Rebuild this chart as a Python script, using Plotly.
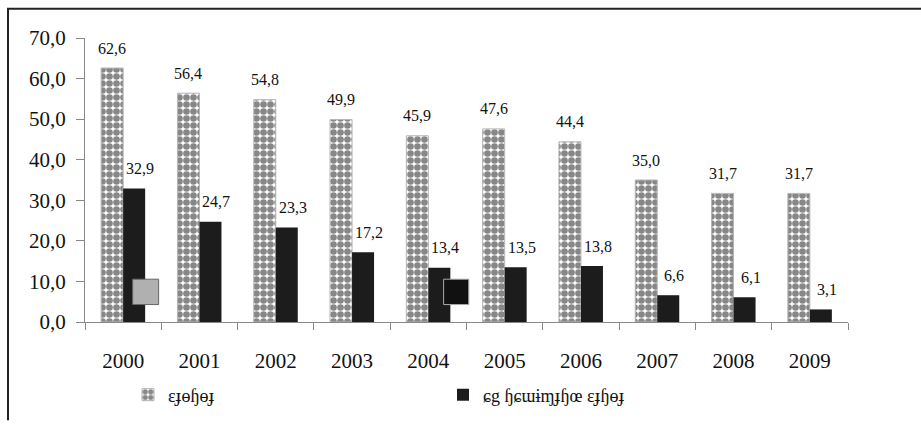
import plotly.graph_objects as go

# Data
years = ["2000", "2001", "2002", "2003", "2004", "2005", "2006", "2007", "2008", "2009"]
series_a = [62.6, 56.4, 54.8, 49.9, 45.9, 47.6, 44.4, 35.0, 31.7, 31.7]
series_b = [32.9, 24.7, 23.3, 17.2, 13.4, 13.5, 13.8, 6.6, 6.1, 3.1]
name_a = "ɛɟɵɧɵɟ"
name_b = "ɕg ɧɕɯɨɱɟɧœ ɛɟɧɵɟ"
y_ticks = [0, 10, 20, 30, 40, 50, 60, 70]

FONT = "Liberation Serif"
W, H = 921, 426
L, R, T, B = 85, 73, 38, 96
PW, PH = W - L - R, H - T - B


def fmt(v):
    return f"{v:.1f}".replace(".", ",")


def px_x(p):
    return (p - L) / PW


def px_y(p):
    return (H - B - p) / PH


dots = dict(shape=".", fgcolor="#878787", bgcolor="#ffffff", size=7, solidity=0.7,
            fillmode="replace")

fig = go.Figure()
fig.add_trace(go.Bar(
    x=years, y=series_a, name=name_a,
    marker=dict(color="white", line=dict(color="#b5b5b5", width=1), pattern=dots),
))
fig.add_trace(go.Bar(
    x=years, y=series_b, name=name_b,
    marker=dict(color="#1c1c1c", line=dict(color="#1c1c1c", width=0)),
))

# value labels above the bars (x given as category index)
ann = []
for i, (va, vb) in enumerate(zip(series_a, series_b)):
    ann.append(dict(x=i, y=va, xref="x", yref="y", text=fmt(va), showarrow=False,
                    xshift=-11, yshift=20, font=dict(family=FONT, size=16, color="#111")))
    ann.append(dict(x=i, y=vb, xref="x", yref="y", text=fmt(vb), showarrow=False,
                    xshift=17, yshift=20, font=dict(family=FONT, size=16, color="#111")))

shapes = [
    # outer frame (left and top edges)
    dict(type="line", xref="paper", yref="paper", x0=px_x(8), x1=px_x(8), y0=px_y(8), y1=px_y(H + 5),
         line=dict(color="#222", width=2)),
    dict(type="line", xref="paper", yref="paper", x0=px_x(7), x1=px_x(W + 5), y0=px_y(8), y1=px_y(8),
         line=dict(color="#222", width=2)),
    # stray key boxes inside the plot
    dict(type="rect", xref="x", yref="y", x0=0.125, x1=0.465, y0=4.3, y1=10.55,
         fillcolor="#b0b0b0", line=dict(color="#666", width=1)),
    dict(type="rect", xref="x", yref="y", x0=4.2, x1=4.53, y0=4.3, y1=10.55,
         fillcolor="#111", line=dict(color="#aaa", width=1)),
]

fig.update_layout(
    width=W, height=H,
    margin=dict(l=L, r=R, t=T, b=B),
    paper_bgcolor="white", plot_bgcolor="white",
    barmode="group", bargap=0.423, bargroupgap=0,
    font=dict(family=FONT, color="#111"),
    showlegend=True,
    legend=dict(orientation="h", x=px_x(128), xanchor="left", y=px_y(386), yanchor="top",
                font=dict(family=FONT, size=18, color="#111"),
                entrywidth=270, itemwidth=30, bgcolor="rgba(0,0,0,0)"),
    annotations=ann,
    shapes=shapes,
    xaxis=dict(type="category", range=[-0.5, len(years) - 0.5], showline=True,
               linecolor="#888", linewidth=1,
               ticks="outside", tickson="boundaries", ticklen=7, tickcolor="#888",
               ticklabelstandoff=20,
               tickfont=dict(family=FONT, size=21, color="#111"), showgrid=False),
    yaxis=dict(range=[0, 70], tickvals=y_ticks, ticktext=[fmt(v) for v in y_ticks],
               showline=True, linecolor="#888", linewidth=1,
               ticks="outside", ticklen=8, tickcolor="#888",
               ticklabelstandoff=6,
               tickfont=dict(family=FONT, size=21, color="#111"),
               showgrid=False, zeroline=False),
)

fig.write_html("out.html")
